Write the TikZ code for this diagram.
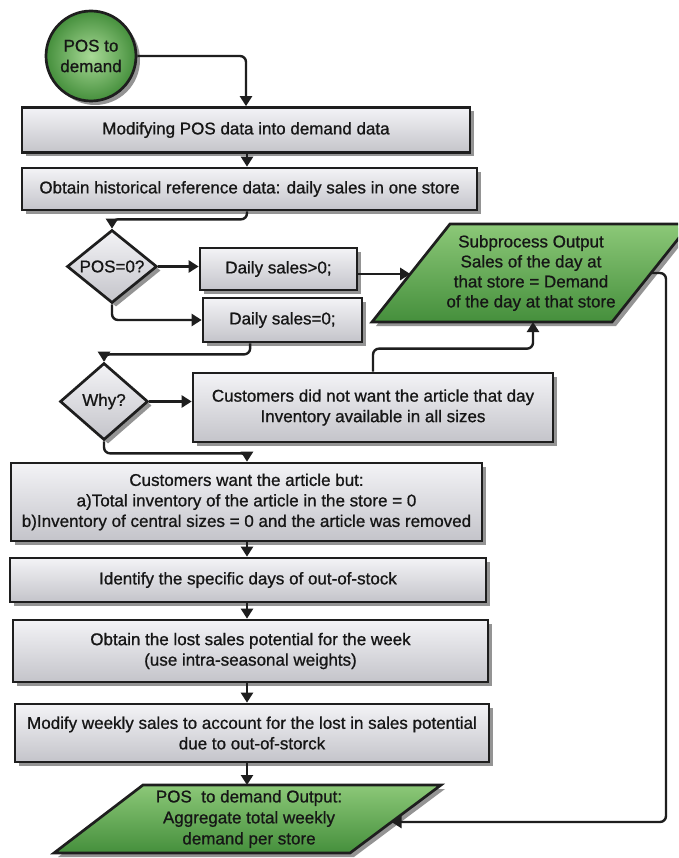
\documentclass[tikz,border=0pt]{standalone}
\usepackage{fontspec}
\setmainfont[FakeBold=0.9]{Liberation Sans}
\usetikzlibrary{arrows.meta,shapes.geometric,shadows,calc}

\definecolor{edge}{HTML}{1E1E1E}
\definecolor{boxtop}{HTML}{F3F3F6}
\definecolor{boxbot}{HTML}{C4C4CA}
\definecolor{greentop}{HTML}{8CC878}
\definecolor{greenbot}{HTML}{458F3C}
\definecolor{greenmid}{HTML}{A8DA96}
\definecolor{shade}{HTML}{7A7A7A}
\definecolor{ink}{HTML}{161616}

\begin{document}
\begin{tikzpicture}[x=1pt,y=-1pt,
  txt/.style={font=\fontsize{17}{20.5}\selectfont, text=ink, align=center},
  sh/.style={drop shadow={shadow xshift=4pt, shadow yshift=-4pt, fill=shade, opacity=0.8}},
  stepbox/.style={txt, rectangle, draw=edge, line width=2.7pt,
    top color=boxtop, bottom color=boxbot, sh, inner sep=0pt},
  decide/.style={diamond, draw=edge, line width=2.7pt,
    top color=boxtop, bottom color=boxbot, sh, inner sep=0pt},
  outshape/.style={draw=edge, line width=2.7pt, top color=greentop,
    bottom color=greenbot, sh, line join=miter},
  conn/.style={draw=edge, line width=2.4pt, rounded corners=6pt,
    -{Triangle[width=12pt,length=10pt]}}]

\clip (0,0) rectangle (678,858);
\fill[white] (0,0) rectangle (678,858);

% vertical column of the main flow
\coordinate (col) at (247,0);

% start terminal
\node[circle, draw=edge, line width=2.7pt, minimum size=90pt, inner sep=0pt,
      inner color=greenmid, outer color=greenbot, sh, txt] (start) at (91,56)
      {POS to\\demand};

% process steps
\node[stepbox, minimum width=448pt, minimum height=45pt] (box1) at (246,130)
  {Modifying POS data into demand data};
\node[stepbox, minimum width=455pt, minimum height=42pt] (box2) at (249.5,189)
  {Obtain historical reference data: daily sales in one store};

% first decision
\node[decide, minimum width=90pt, minimum height=73pt] (q1) at (112,266.5) {};
\node[txt] at (q1) {POS=0?};

\node[stepbox, minimum width=157pt, minimum height=42pt] (ds1) at (278.5,269)
  {Daily sales>0;};
\node[stepbox, minimum width=159pt, minimum height=44pt] (ds0) at (282.5,320)
  {Daily sales=0;};

% subprocess output
\coordinate (pA) at (450,224);
\coordinate (pB) at (690,224);
\coordinate (pC) at (612,322);
\coordinate (pD) at (372,322);
\path[outshape] (pA) -- (pB) -- (pC) -- (pD) -- cycle;
\node[txt, font=\fontsize{17}{20}\selectfont] (out1) at (531,273)
  {Subprocess Output\\Sales of the day at\\that store = Demand\\of the day at that store};
\coordinate (p1w) at ($(pA)!0.51!(pD)$);
\coordinate (p1e) at ($(pB)!0.5!(pC)$);
\coordinate (p1b) at (533,322);

% second decision
\node[decide, minimum width=88pt, minimum height=77pt] (why) at (104,401.5) {};
\node[txt] at (why) {Why?};

\node[stepbox, minimum width=360pt, minimum height=69pt] (box3) at (373,407.5)
  {Customers did not want the article that day\\Inventory available in all sizes};

\node[stepbox, minimum width=471pt, minimum height=78pt] (box4) at (246.5,502)
  {Customers want the article but:\\a)Total inventory of the article in the store = 0\\b)Inventory of central sizes = 0 and the article was removed};
\node[stepbox, minimum width=476pt, minimum height=44pt] (box5) at (248,580)
  {Identify the specific days of out-of-stock};
\node[stepbox, minimum width=475pt, minimum height=62pt] (box6) at (250.5,651)
  {Obtain the lost sales potential for the week\\(use intra-seasonal weights)};
\node[stepbox, minimum width=474pt, minimum height=58pt] (box7) at (252,733)
  {Modify weekly sales to account for the lost in sales potential\\due to out-of-storck};

% final output
\coordinate (pE) at (143,785);
\coordinate (pF) at (441,785);
\coordinate (pG) at (350,853);
\coordinate (pH) at (54,853);
\path[outshape] (pE) -- (pF) -- (pG) -- (pH) -- cycle;
\node[txt, font=\fontsize{17}{21}\selectfont] (out2) at (249,819)
  {POS\ \ to demand Output:\\Aggregate total weekly\\demand per store};
\coordinate (p2e) at ($(pF)!0.544!(pG)$);

% connectors
\draw[conn] (start.east) -| (box1.north);
\draw[conn] (box1.south -| col) -- (box2.north -| col);
\draw[conn] (box2.south -| col) -- ++(0,8) -| (q1.north);
\draw[conn] (q1.east) -- (q1.east -| ds1.west);
\draw[conn] (q1.south) |- (ds0.west);
\draw[conn] (ds1.east |- p1w) -- (p1w);
\coordinate (ds0b) at ($(ds0.south west)!0.3!(ds0.south east)$);
\draw[conn] (ds0b) -- ++(0,11) -| (why.north);
\draw[conn] (why.east) -- (why.east -| box3.west);
\draw[conn] (box3.north) -- ++(0,-23) -| (p1b);
\draw[conn] (why.south) -- ++(0,12) -| (box4.north -| col);
\draw[conn] (box4.south -| col) -- (box5.north -| col);
\draw[conn] (box5.south -| col) -- (box6.north -| col);
\draw[conn] (box6.south -| col) -- (box7.north -| col);
\draw[conn] (box7.south -| col) -- (col |- pE);
\draw[conn] (p1e) -- ++(15,0) |- (p2e);
\end{tikzpicture}
\end{document}
